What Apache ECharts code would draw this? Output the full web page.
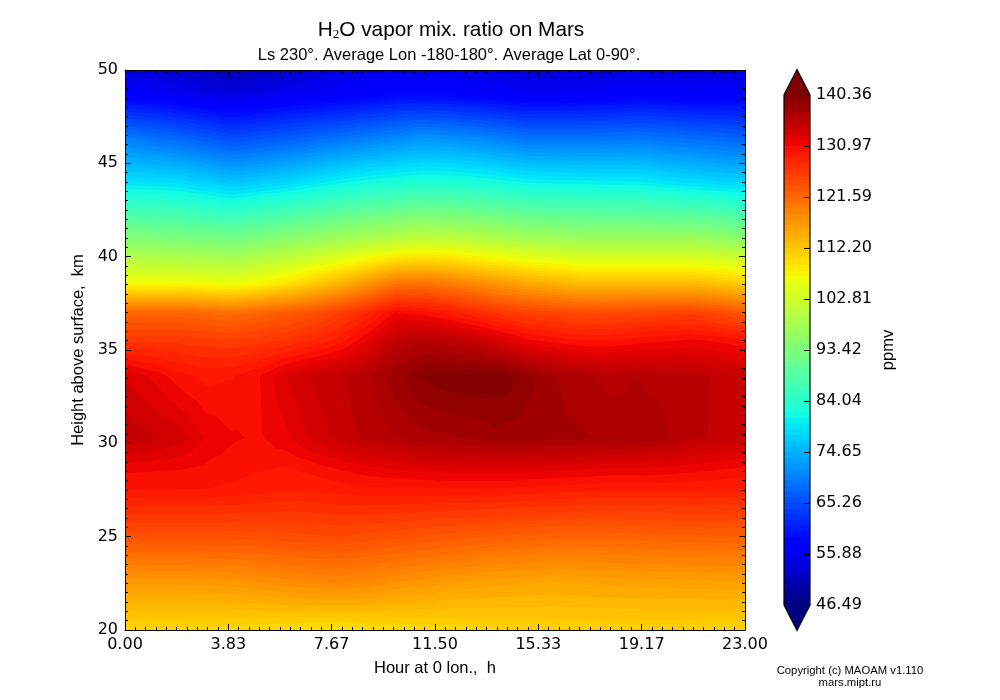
<!DOCTYPE html>
<html>
<head>
<meta charset="utf-8">
<style>html,body{margin:0;padding:0;background:#fff}#c{width:1000px;height:700px}</style>
<script src="https://cdn.jsdelivr.net/npm/echarts@6/dist/echarts.min.js"></script>
</head>
<body>
<div id="c"></div>
<script>
const hours = [0,1,2,3,4,5,6,7,8,9,10,11,12,13,14,15,16,17,18,19,20,21,22,23];
const heights = [20,22.5,25,27.5,28.6,30.3,33.6,35.5,37,38.6,41,44,46.5,48.8,50];
const km20   = [110.8,110.8,110.8,110.7,110.6,110.3,110.0,109.7,109.6,109.9,110.2,110.4,110.6,110.8,111.0,111.1,111.2,111.2,111.2,111.2,111.2,111.1,111.0,111.0];
const km22_5 = [116.5,116.5,116.5,116.6,116.8,117.3,117.9,118.3,118.5,118.1,117.3,116.8,116.3,115.9,115.6,115.4,115.2,115.4,115.6,115.7,115.8,115.9,116.0,116.0];
const km25   = [124.0,124.0,124.0,124.0,124.0,124.1,124.3,124.5,124.6,124.3,124.0,123.6,123.2,122.8,122.5,122.2,122.0,122.0,122.0,122.1,122.3,122.4,122.5,122.5];
const km27_5 = [129.9,129.9,129.9,129.9,129.6,129.3,128.9,129.0,129.3,129.6,129.6,129.6,129.7,129.7,129.7,129.5,129.3,129.1,129.0,129.0,129.0,129.0,128.9,128.7];
const km28_6 = [131.2,131.1,131.0,130.7,130.4,130.0,129.8,130.3,131.0,131.6,132.0,132.3,132.5,132.5,132.5,132.4,132.2,132.0,131.8,131.8,131.6,131.3,131.0,130.7];
const km30_3 = [135.0,134.4,133.6,131.9,131.1,130.8,131.8,133.4,134.6,135.5,136.1,136.8,137.1,137.4,137.9,137.7,137.5,137.35,137.05,136.9,136.4,135.5,134.9,134.6];
const km33_6 = [133.0,131.8,130.4,129.6,129.85,130.97,133.06,134.3,135.0,136.0,137.9,139.5,140.07,140.36,140.1,138.6,137.24,136.4,135.8,136.15,135.9,135.5,135.0,134.8];
const km35_5 = [126.5,126.5,126.5,126.2,126.0,126.4,127.0,128.0,129.5,132.0,135.0,136.0,135.5,134.5,133.0,131.2,130.5,130.0,130.0,130.5,130.8,131.2,130.8,130.2];
const km37   = [122.0,122.0,122.0,121.5,121.0,122.0,123.0,124.0,126.0,128.0,131.0,130.5,129.5,128.0,126.5,125.5,125.0,124.5,124.7,125.0,125.3,125.5,124.5,123.0];
const km38_6 = [106.8,106.7,106.6,106.3,106.0,107.3,109.0,111.5,114.0,117.0,120.0,120.5,119.5,118.0,116.5,115.0,114.0,113.0,113.0,113.0,113.0,113.0,112.3,111.5];
const km41   = [94.2,93.8,93.4,92.9,92.4,93.7,95.0,96.2,97.5,98.8,100.0,101.0,100.8,100.0,99.0,98.0,97.5,97.0,97.0,97.0,97.0,97.0,96.2,95.2];
const km44   = [79.0,78.8,78.5,77.3,76.2,77.1,78.0,79.3,80.6,81.5,82.2,82.8,82.6,82.2,81.4,80.6,80.4,80.3,80.1,80.0,79.2,78.5,78.0,77.5];
const km46_5 = [69.0,68.0,67.0,65.7,64.5,65.2,66.0,67.0,68.0,69.0,70.0,71.0,70.6,70.0,69.0,68.0,68.0,68.0,68.2,68.5,68.0,67.5,67.0,66.5];
const km48_8 = [56.8,56.2,55.5,54.7,54.0,54.8,55.5,56.0,56.5,57.2,57.8,58.0,57.6,57.0,56.5,56.0,56.0,56.2,56.5,57.0,56.8,56.5,56.6,56.8];
const km50   = [54.4,53.8,53.2,52.3,51.5,52.0,52.8,53.8,55.0,55.3,55.5,55.5,55.3,55.0,54.5,54.0,54.0,54.0,54.2,54.5,54.3,54.0,54.2,54.5];
const field = [km20,km22_5,km25,km27_5,km28_6,km30_3,km33_6,km35_5,km37,km38_6,km41,km44,km46_5,km48_8,km50];

const hourTicks = [0,23/6,23/3,11.5,46/3,115/6,23];
const heightTicks = [20,25,30,35,40,45,50];
const colorTicks = [46.49,55.88,65.26,74.65,84.04,93.42,102.81,112.20,121.59,130.97,140.36];
const levelMin = 46.49, levelMax = 140.36, bandCount = 90;

const jetR = [[0,0],[0.35,0],[0.66,1],[0.89,1],[1,0.5]];
const jetG = [[0,0],[0.125,0],[0.375,1],[0.64,1],[0.91,0],[1,0]];
const jetB = [[0,0.5],[0.11,1],[0.34,1],[0.65,0],[1,0]];

function seg(s,t){for(let i=1;i<s.length;i++){if(t<=s[i][0]){const a=s[i-1],b=s[i];return a[1]+(b[1]-a[1])*(t-a[0])/(b[0]-a[0]);}}return s[s.length-1][1];}
function jet(t){return 'rgb('+Math.round(255*seg(jetR,t))+','+Math.round(255*seg(jetG,t))+','+Math.round(255*seg(jetB,t))+')';}
const step=(levelMax-levelMin)/bandCount;
const bands=[];
for(let k=0;k<bandCount;k++){bands.push({lo:levelMin+k*step,hi:levelMin+(k+1)*step,color:jet((k+0.5)/bandCount)});}

function clipAbove(poly,level){
  const out=[];
  for(let i=0;i<poly.length;i++){
    const p=poly[i],q=poly[(i+1)%poly.length];
    const pin=p[2]>=level,qin=q[2]>=level;
    if(pin)out.push(p);
    if(pin!==qin){const f=(level-p[2])/(q[2]-p[2]);out.push([p[0]+f*(q[0]-p[0]),p[1]+f*(q[1]-p[1]),level]);}
  }
  return out;
}
const tris=[];
for(let j=0;j<heights.length-1;j++)for(let i=0;i<hours.length-1;i++){
  const A=[hours[i],heights[j],field[j][i]],B=[hours[i+1],heights[j],field[j][i+1]],
        C=[hours[i+1],heights[j+1],field[j+1][i+1]],D=[hours[i],heights[j+1],field[j+1][i]];
  const M=[(A[0]+B[0])/2,(A[1]+D[1])/2,(A[2]+B[2]+C[2]+D[2])/4];
  tris.push([A,B,M],[B,C,M],[C,D,M],[D,A,M]);
}
const bandItems=bands.map(function(b,k){return [k];});

// each band paints everything at or above its lower level, so later bands overlap earlier ones
function renderBand(params,api){
  const k=params.dataIndex,b=bands[k],lo=k===0?-Infinity:b.lo;
  const parts=[];
  tris.forEach(function(tri){
    const poly=isFinite(lo)?clipAbove(tri,lo):tri;
    if(poly.length<3)return;
    let s='';
    poly.forEach(function(p,n){const c=api.coord([p[0],p[1]]);s+=(n?'L':'M')+c[0].toFixed(2)+' '+c[1].toFixed(2);});
    parts.push(s+'Z');
  });
  return {type:'path',shape:{pathData:parts.join('')},style:{fill:b.color},silent:true};
}

const tipExtent=(levelMax-levelMin)*0.05;
function renderBar(params,api){
  const b=bands[params.dataIndex];
  const p1=api.coord([0,b.lo]),p2=api.coord([1,levelMax]);
  return {type:'rect',shape:{x:p1[0],y:p2[1],width:p2[0]-p1[0],height:p1[1]-p2[1]},style:{fill:b.color},silent:true};
}
function renderDecor(params,api){
  const a=api.coord([0,levelMin]),b=api.coord([1,levelMin]),c=api.coord([1,levelMax]),d=api.coord([0,levelMax]);
  const bt=api.coord([0.5,levelMin-tipExtent]),tt=api.coord([0.5,levelMax+tipExtent]);
  const kids=[
    {type:'polygon',shape:{points:[a,b,bt]},style:{fill:jet(0)}},
    {type:'polygon',shape:{points:[d,c,tt]},style:{fill:jet(1)}},
    {type:'polygon',shape:{points:[a,bt,b,c,tt,d]},style:{fill:'none',stroke:'#000',lineWidth:1.2,lineJoin:'miter'}}
  ];
  colorTicks.forEach(function(v){
    const r=api.coord([1,v]);
    const y=Math.round(r[1])+0.5;
    kids.push({type:'line',shape:{x1:r[0]-6,y1:y,x2:r[0],y2:y},style:{stroke:'#000',lineWidth:1}});
  });
  return {type:'group',children:kids};
}

const tickFont={fontFamily:'DejaVu Sans',fontSize:16,color:'#000'};
const sans='Liberation Sans';
function frameAxis(extra){
  return Object.assign({
    axisLine:{show:true,onZero:false,lineStyle:{color:'#000',width:1}},
    axisTick:{show:true,inside:true,length:6,lineStyle:{color:'#000',width:1}},
    minorTick:{show:true,splitNumber:10,length:3,lineStyle:{color:'#000',width:1}},
    splitLine:{show:false},minorSplitLine:{show:false},z:10
  },extra);
}
const option={
  animation:false,
  backgroundColor:'#fff',
  title:[
    {text:'{a|H}{s|2}{a|O vapor mix. ratio on Mars}',left:446,top:15,textAlign:'center',
     textStyle:{fontWeight:'normal',rich:{a:{fontFamily:sans,fontSize:20.8,fontWeight:'normal',color:'#000'},s:{fontFamily:'Liberation Serif',fontSize:13,fontWeight:'normal',color:'#000',padding:[8,0,0,0]}}}},
    {text:'Ls 230°. Average Lon -180-180°. Average Lat 0-90°.',left:444,top:42,textAlign:'center',
     textStyle:{fontFamily:sans,fontSize:16.5,fontWeight:'normal',color:'#000'}},
    {text:'Copyright (c) MAOAM v1.110',left:845,top:660,textAlign:'center',
     textStyle:{fontFamily:sans,fontSize:11.3,fontWeight:'normal',color:'#000'}},
    {text:'mars.mipt.ru',left:845,top:672,textAlign:'center',
     textStyle:{fontFamily:sans,fontSize:11.3,fontWeight:'normal',color:'#000'}}
  ],
  grid:[
    {left:125,top:70,width:620,height:560},
    {left:784,top:95,width:26,height:510}
  ],
  xAxis:[
    frameAxis({type:'value',gridIndex:0,position:'bottom',min:0,max:23,interval:23/6,
      name:'Hour at 0 lon.,  h',nameLocation:'middle',nameGap:30,
      nameTextStyle:{fontFamily:sans,fontSize:16.5,color:'#000'},
      axisLabel:{customValues:hourTicks,formatter:function(v){return v.toFixed(2);},margin:7,...tickFont},
      axisTick:{show:true,inside:true,length:6,customValues:hourTicks,lineStyle:{color:'#000',width:1}}}),
    frameAxis({type:'value',gridIndex:0,position:'top',min:0,max:23,interval:23/6,
      axisLabel:{show:false},
      axisTick:{show:true,inside:true,length:6,customValues:hourTicks,lineStyle:{color:'#000',width:1}}}),
    {type:'value',gridIndex:1,min:0,max:1,show:false}
  ],
  yAxis:[
    frameAxis({type:'value',gridIndex:0,position:'left',min:20,max:50,interval:5,
      name:'Height above surface,  km',nameLocation:'middle',nameGap:32,
      nameTextStyle:{fontFamily:sans,fontSize:16.5,color:'#000'},
      axisLabel:{customValues:heightTicks,margin:7,...tickFont}}),
    frameAxis({type:'value',gridIndex:0,position:'right',min:20,max:50,interval:5,axisLabel:{show:false}}),
    {type:'value',gridIndex:1,position:'right',min:levelMin,max:levelMax,z:10,
      name:'ppmv',nameLocation:'middle',nameGap:70,
      nameTextStyle:{fontFamily:sans,fontSize:16.5,color:'#000'},
      axisLine:{show:false},splitLine:{show:false},axisTick:{show:false},
      axisLabel:{customValues:colorTicks,formatter:function(v){return v.toFixed(2);},margin:6,...tickFont}}
  ],
  series:[
    {type:'custom',coordinateSystem:'cartesian2d',xAxisIndex:0,yAxisIndex:0,data:bandItems,renderItem:renderBand,
     encode:{},silent:true,z:2},
    {type:'custom',coordinateSystem:'cartesian2d',xAxisIndex:2,yAxisIndex:2,data:bandItems,renderItem:renderBar,
     encode:{},silent:true,z:2},
    {type:'custom',coordinateSystem:'cartesian2d',xAxisIndex:2,yAxisIndex:2,data:[[0]],renderItem:renderDecor,
     encode:{},silent:true,z:3}
  ]
};
echarts.init(document.getElementById('c'),null,{renderer:'canvas'}).setOption(option);
</script>
</body>
</html>
